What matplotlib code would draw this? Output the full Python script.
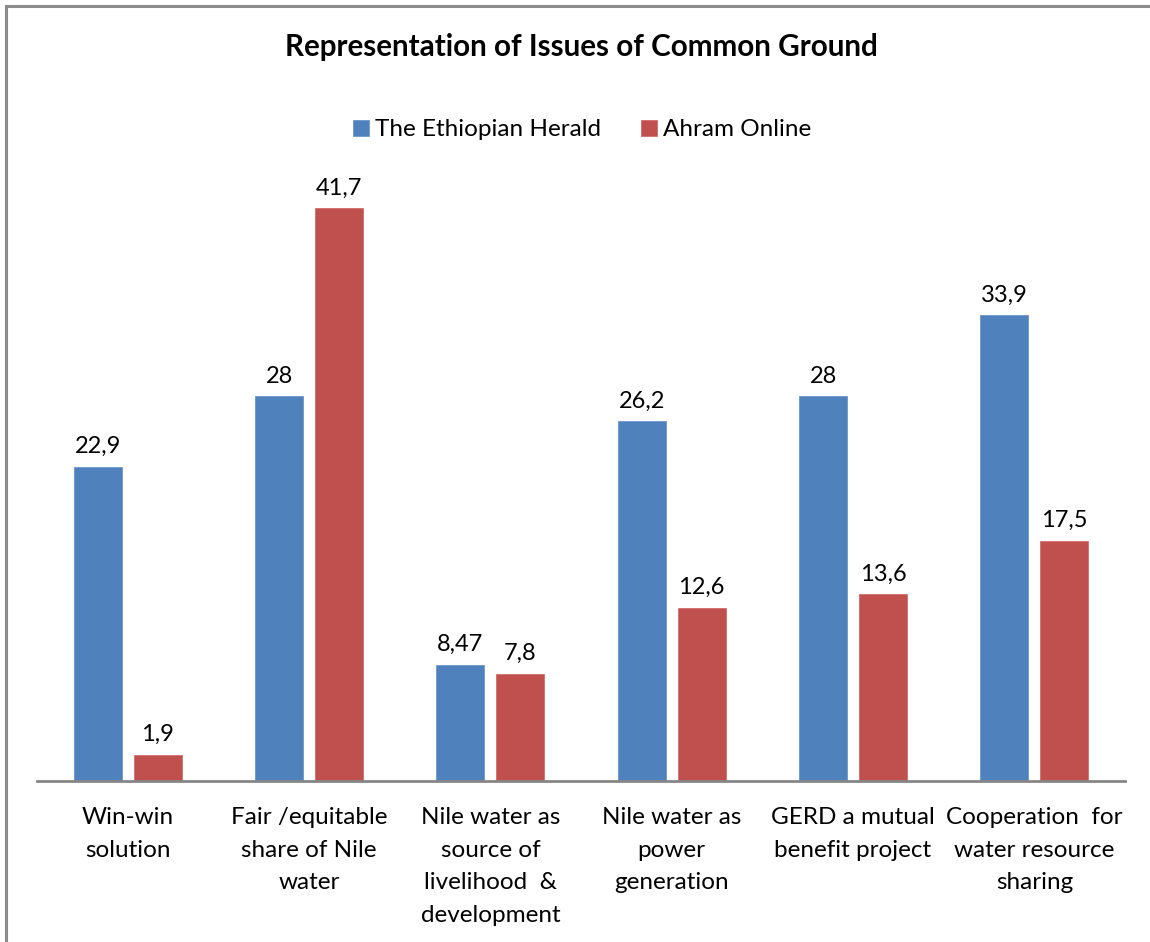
import matplotlib
matplotlib.use("Agg")
import matplotlib.pyplot as plt
import numpy as np

categories = [
    "Win-win\nsolution",
    "Fair /equitable\nshare of Nile\nwater",
    "Nile water as\nsource of\nlivelihood  &\ndevelopment",
    "Nile water as\npower\ngeneration",
    "GERD a mutual\nbenefit project",
    "Cooperation  for\nwater resource\nsharing",
]
herald = [22.9, 28, 8.47, 26.2, 28, 33.9]
ahram = [1.9, 41.7, 7.8, 12.6, 13.6, 17.5]
herald_labels = ["22,9", "28", "8,47", "26,2", "28", "33,9"]
ahram_labels = ["1,9", "41,7", "7,8", "12,6", "13,6", "17,5"]
series_names = ["The Ethiopian Herald", "Ahram Online"]

BLUE = "#4F81BD"
RED = "#C0504D"
FONT = ["Lato", "DejaVu Sans"]
plt.rcParams["font.family"] = FONT

W, H = 1150, 942
fig = plt.figure(figsize=(W / 100, H / 100), dpi=100)

# Outer chart frame (left and top edges)
fig.add_artist(plt.Line2D([6 / W, 6 / W], [0, 1 - 6 / H], color="#8c8c8c", lw=2.2,
                          transform=fig.transFigure))
fig.add_artist(plt.Line2D([6 / W, 1], [1 - 6 / H, 1 - 6 / H], color="#8c8c8c", lw=2.2,
                          transform=fig.transFigure))

ax = fig.add_axes([37 / W, 1 - 781 / H, (1125 - 37) / W, (781 - 163) / H])
x = np.arange(len(categories))
width = 0.265
off = 0.165
b1 = ax.bar(x - off, herald, width, color=BLUE, edgecolor="#6b97cc", linewidth=0.6,
            label=series_names[0], zorder=2)
b2 = ax.bar(x + off, ahram, width, color=RED, edgecolor="#d36e6b", linewidth=0.6,
            label=series_names[1], zorder=2)

for rects, labs in ((b1, herald_labels), (b2, ahram_labels)):
    for r, lab in zip(rects, labs):
        ax.annotate(lab, (r.get_x() + r.get_width() / 2, r.get_height()),
                    xytext=(0, 7), textcoords="offset points", ha="center", va="bottom",
                    fontsize=17, color="#000000")

ax.set_xlim(-0.5, len(categories) - 0.5)
ax.set_ylim(0, 45)
ax.set_yticks([])
ax.set_xticks(x)
ax.set_xticklabels(categories, fontsize=17.5, linespacing=1.67)
ax.tick_params(axis="x", length=0, pad=19)
for s in ("top", "right", "left"):
    ax.spines[s].set_visible(False)
ax.spines["bottom"].set_color("#868686")
ax.spines["bottom"].set_linewidth(2)

fig.text(581 / W, 1 - 47 / H, "Representation of Issues of Common Ground",
         ha="center", va="center", fontsize=21.3, fontweight="bold")

leg = fig.legend(handles=[b1, b2], loc="center", bbox_to_anchor=(582 / W, 1 - 130 / H),
                 ncol=2, frameon=False, fontsize=17.5, handlelength=0.65, handleheight=0.65,
                 handletextpad=0.25, columnspacing=1.65)

fig.savefig("out.png", dpi=100)
